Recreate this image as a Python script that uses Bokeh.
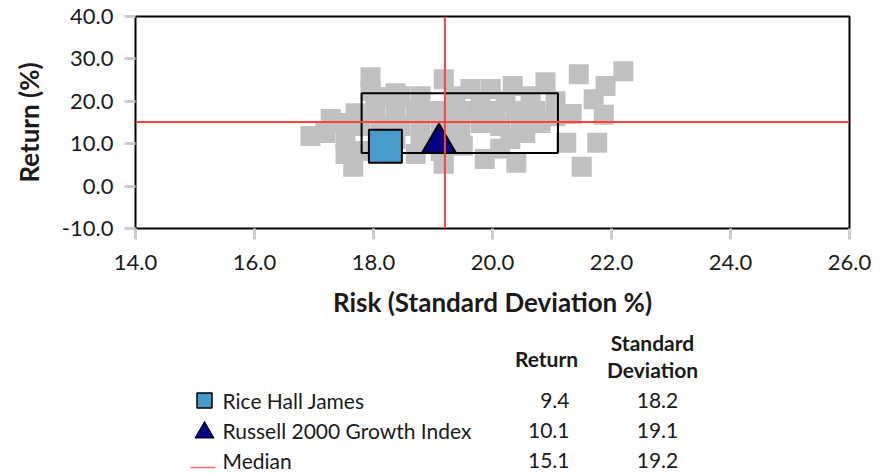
from bokeh.plotting import figure
from bokeh.models import Range1d, FixedTicker, NumeralTickFormatter, Span
from bokeh.layouts import column
from bokeh.embed import file_html
from bokeh.resources import INLINE
from bokeh.core.properties import value

# ---------------- data ----------------
peer_risk = [17.95, 17.95, 19.18, 22.2, 21.9, 21.7, 21.87, 21.33, 21.45, 21.24,
             21.76, 21.5, 20.89, 20.34, 19.97, 19.63, 18.45, 18.79, 21.06, 20.64,
             19.38, 19.8, 20.22, 17.7, 18.03, 18.37, 18.71, 19.04, 19.38, 19.71,
             20.05, 20.39, 20.72, 21.06, 17.45, 17.78, 18.12, 18.45, 18.79, 19.13,
             19.46, 19.8, 20.13, 20.47, 20.81, 16.94, 17.19, 17.53, 18.37, 18.79,
             19.38, 20.3, 20.55, 17.53, 17.82, 18.71, 19.13, 19.5, 19.87, 20.13,
             17.66, 19.18, 20.4, 17.28, 18.37, 18.2]
peer_return = [25.7, 22.4, 25.2, 27.1, 23.6, 20.5, 16.8, 17.0, 26.4, 10.2,
               10.2, 4.55, 24.5, 23.6, 22.9, 22.9, 21.2, 21.2, 20.0, 21.2,
               21.2, 20.0, 20.0, 17.2, 17.7, 17.7, 17.7, 17.7, 17.7, 17.7,
               17.7, 17.7, 17.7, 16.5, 14.9, 14.2, 14.2, 14.2, 14.2, 14.2,
               14.2, 14.9, 14.2, 14.2, 14.9, 11.8, 12.5, 11.1, 11.1, 10.7,
               10.7, 11.1, 12.5, 7.6, 8.3, 7.6, 8.3, 9.5, 6.4, 8.8,
               4.55, 5.3, 5.5, 15.8, 21.9, 21.0]

box_risk = [17.8, 21.1]      # peer-group interquartile range
box_return = [7.8, 21.9]

series_names = ["Rice Hall James", "Russell 2000 Growth Index", "Median"]
series_return = [9.4, 10.1, 15.1]
series_sd = [18.2, 19.1, 19.2]

x_ticks = [14, 16, 18, 20, 22, 24, 26]
y_ticks = [-10, 0, 10, 20, 30, 40]

FONT = "Lato"
TXT = "#1A1A1A"
FS = "22px"
FS_TITLE = "26px"

BL, BR = 135, 41      # left / right borders (shared by both panels)
FW = 714              # frame width

# ---------------- scatter chart ----------------
p = figure(frame_width=FW, frame_height=212,
           min_border_left=BL, min_border_right=BR, min_border_top=16, min_border_bottom=102,
           x_range=Range1d(x_ticks[0], x_ticks[-1]), y_range=Range1d(y_ticks[0], y_ticks[-1]),
           output_backend="svg", toolbar_location=None,
           background_fill_color="white", border_fill_color="white")
p.grid.visible = False
p.outline_line_color = "black"
p.outline_line_width = 2

p.scatter(peer_risk, peer_return, marker="square", size=20,
          fill_color="#C0C0C0", line_color=None)
p.quad(left=[box_risk[0]], right=[box_risk[1]], bottom=[box_return[0]], top=[box_return[1]],
       fill_color=None, line_color="black", line_width=2)
p.scatter([series_sd[0]], [series_return[0]], marker="square", size=33,
          fill_color="#469BCB", line_color="black", line_width=2)
p.scatter([series_sd[1]], [series_return[1]], marker="triangle", size=34,
          fill_color="#000080", line_color="black", line_width=2)
p.add_layout(Span(location=series_sd[2], dimension="height", line_color="#FF4040", line_width=2))
p.add_layout(Span(location=series_return[2], dimension="width", line_color="#FF4040", line_width=2))

p.xaxis.ticker = FixedTicker(ticks=x_ticks)
p.yaxis.ticker = FixedTicker(ticks=y_ticks)
p.xaxis.axis_label = "Risk (Standard Deviation %)"
p.yaxis.axis_label = "Return (%)"
for ax in (p.xaxis, p.yaxis):
    ax.formatter = NumeralTickFormatter(format="0.0")
    ax.axis_line_color = None
    ax.major_tick_line_color = "#C8CCD0"
    ax.major_tick_line_width = 3
    ax.major_tick_out = 11
    ax.major_tick_in = 0
    ax.minor_tick_line_color = None
    ax.major_label_text_font = FONT
    ax.major_label_text_font_size = FS
    ax.major_label_text_color = TXT
    ax.axis_label_text_font = FONT
    ax.axis_label_text_font_size = FS_TITLE
    ax.axis_label_text_font_style = "bold"
    ax.axis_label_text_color = TXT
p.xaxis.major_label_standoff = 15
p.yaxis.major_label_standoff = 11
p.xaxis.axis_label_standoff = 13
p.yaxis.axis_label_standoff = 14

# ---------------- table / legend ----------------
H2 = 145
t = figure(frame_width=FW, frame_height=H2,
           min_border_left=BL, min_border_right=BR, min_border_top=0, min_border_bottom=0,
           x_range=Range1d(BL, BL + FW), y_range=Range1d(H2, 0),
           x_axis_type=None, y_axis_type=None,
           output_backend="svg", toolbar_location=None,
           background_fill_color="white", border_fill_color="white")
t.grid.visible = False
t.outline_line_color = None

row_y = [70 + i * 30 for i in range(len(series_names))]
common = dict(text_font=value(FONT), text_font_size=value("21px"), text_color=TXT,
              text_baseline="middle")

t.text(x=[546], y=[28], text=["Return"], text_align="center",
       text_font_style="bold", **common)
t.text(x=[652, 652], y=[12, 39], text=["Standard", "Deviation"], text_align="center",
       text_font_style="bold", **common)
t.text(x=[222] * 3, y=row_y, text=series_names, text_align="left", **common)
t.text(x=[569] * 3, y=row_y, text=[f"{v:.1f}" for v in series_return], text_align="right", **common)
t.text(x=[657] * 3, y=row_y, text=[f"{v:.1f}" for v in series_sd], text_align="center", **common)

t.scatter([204], [row_y[0]], marker="square", size=15, fill_color="#469BCB",
          line_color="black", line_width=1.5)
t.scatter([204], [row_y[1] + 2], marker="triangle", size=19, fill_color="#000080",
          line_color="black", line_width=1)
t.segment(x0=[190], x1=[215], y0=[row_y[2] + 7], y1=[row_y[2] + 7],
          line_color="#FF7070", line_width=1.5)

layout = column(p, t)
open("out.html", "w").write(file_html(layout, INLINE))
